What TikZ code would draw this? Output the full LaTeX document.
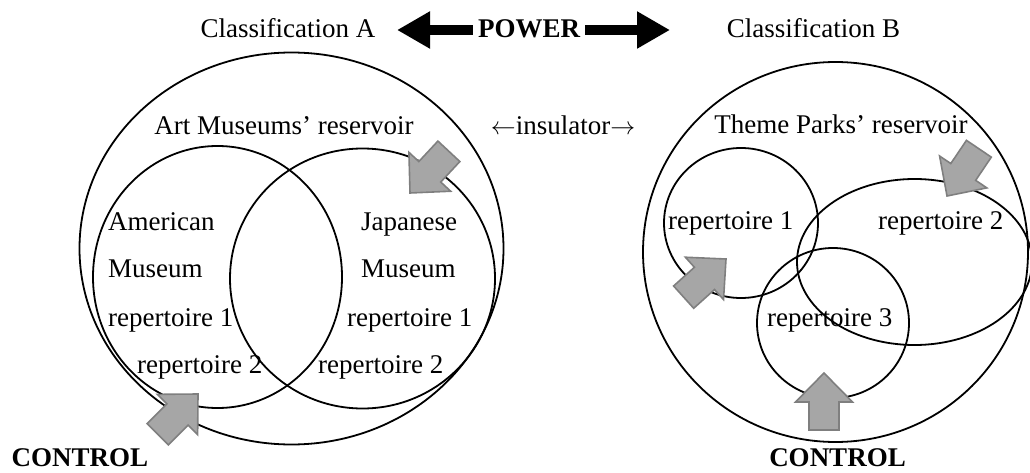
\documentclass[tikz,border=0pt]{standalone}
\usepackage{fontspec}
\setmainfont{Liberation Serif}
\usetikzlibrary{arrows.meta}
\definecolor{arrowfill}{HTML}{A6A6A6}
\definecolor{arrowedge}{HTML}{7F7F7F}
% gray push arrow: tip at (#1,#2), pointing along angle #3
\newcommand\pushArrowAt[3]{%
  \path[pusharrow, shift={(#1,#2)}, rotate=#3]
    (0,0) -- (-29,28.5) -- (-29,15) -- (-57,15) -- (-57,-15)
    -- (-29,-15) -- (-29,-28.5) -- cycle;}
\begin{document}
\begin{tikzpicture}[x=1pt,y=1pt,
  ring/.style={draw=black, line width=1.8pt},
  lbl/.style={font=\fontsize{27}{32}\selectfont, inner sep=0pt, anchor=base},
  lbll/.style={lbl, anchor=base west},
  boldlbl/.style={lbl, font=\fontsize{27}{32}\selectfont\bfseries},
  pusharrow/.style={fill=arrowfill, draw=arrowedge, line width=1.6pt, line join=miter},
  powerarrow/.style={line width=10pt, -{Triangle[length=33pt,width=35pt]}}
]
\useasboundingbox (0,0) rectangle (1030,472);

% left: art museums
\draw[ring] (291.5,223.5) ellipse [x radius=212, y radius=196];
\draw[ring] (217.5,195) ellipse [x radius=124.5, y radius=131];
\draw[ring] (362.5,193.5) ellipse [x radius=132.5, y radius=130];

% right: theme parks
\draw[ring] (835.5,220) ellipse [x radius=192.5, y radius=190];
\draw[ring] (741,249) ellipse [x radius=77, y radius=75];
\draw[ring] (914.5,210) ellipse [x radius=117.5, y radius=83];
\draw[ring] (833,149) ellipse [x radius=76, y radius=75];

% control arrows
\pushArrowAt{198}{78}{45}
\pushArrowAt{410}{279}{-133}
\pushArrowAt{947}{276}{-124}
\pushArrowAt{726}{213}{42}
\pushArrowAt{824}{99}{90}

% headline
\node[lbl] (classA) at (288,434.3) {Classification A};
\node[boldlbl, inner xsep=5pt] (power) at (529,434.3) {POWER};
\node[lbl] (classB) at (813.5,434.3) {Classification B};
\coordinate (tipA) at (397,442);
\coordinate (tipB) at (670,442);
\draw[powerarrow] (power.west |- tipA) -- (tipA);
\draw[powerarrow] (power.east |- tipB) -- (tipB);

% labels
\node[lbl] (artres) at (284,337) {Art Museums’ reservoir};
\node[lbl] (insul) at (563,337) {$\leftarrow$insulator$\rightarrow$};
\node[lbll] (amer) at (108,242) {American};
\node[lbll] (amermus) at (108,194.7) {Museum};
\node[lbll] (amerr1) at (108,146) {repertoire 1};
\node[lbll] (amerr2) at (137,99) {repertoire 2};
\node[lbll] (jap) at (361,242) {Japanese};
\node[lbll] (japmus) at (361,194.7) {Museum};
\node[lbll] (japr1) at (347,146) {repertoire 1};
\node[lbll] (japr2) at (318,99) {repertoire 2};

\node[lbl] (themeres) at (841,338) {Theme Parks’ reservoir};
\node[lbll] (tp1) at (668,243) {repertoire 1};
\node[lbll] (tp2) at (878,243) {repertoire 2};
\node[lbll] (tp3) at (767,146) {repertoire 3};

\node[boldlbl] (ctrlA) at (80,5.3) {CONTROL};
\node[boldlbl] (ctrlB) at (837.5,5.3) {CONTROL};
\end{tikzpicture}
\end{document}
